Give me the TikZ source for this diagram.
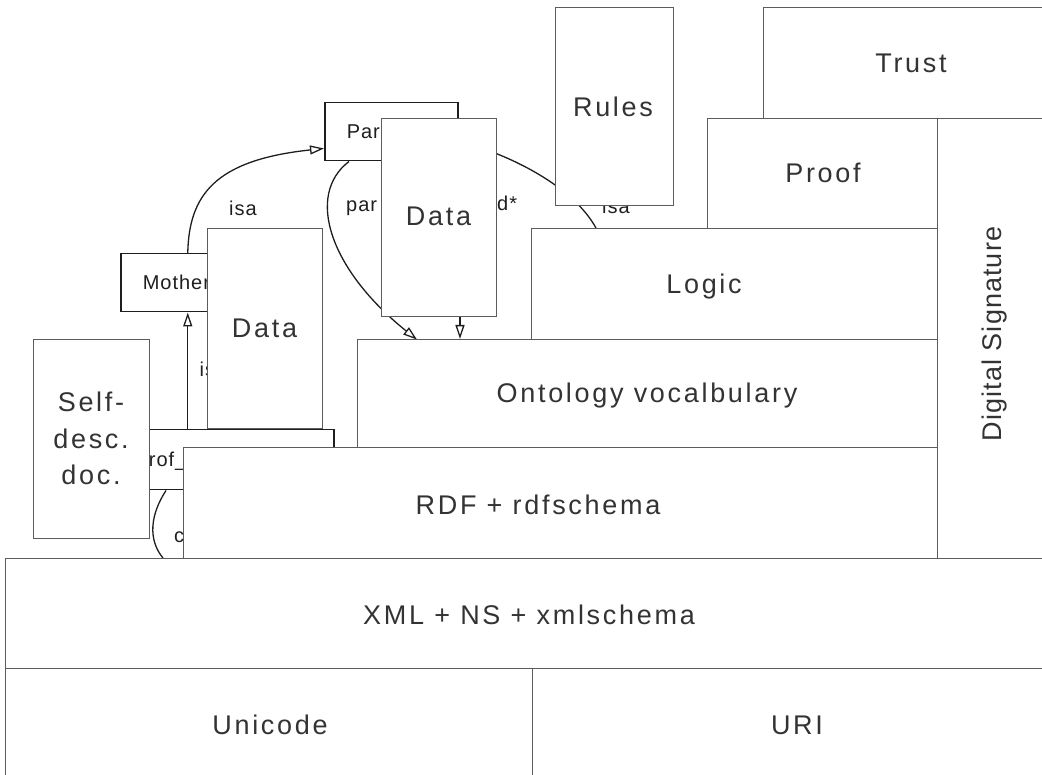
\documentclass[tikz,border=0pt]{standalone}
\usepackage{fontspec}
\setmainfont{Liberation Sans}
\newfontfamily\layerfont{Liberation Sans}[LetterSpace=10]
\newfontfamily\sigfont{Liberation Sans}[LetterSpace=4]
\newfontfamily\umlfont{Liberation Sans}[LetterSpace=5]
\usetikzlibrary{arrows.meta,calc}

\definecolor{edgegray}{HTML}{5C5C5C}
\definecolor{textgray}{HTML}{333333}
\definecolor{umlink}{HTML}{1E1E1E}

\pgfdeclarelayer{uml}
\pgfsetlayers{uml,main}

\tikzset{
  layer/.style={draw=edgegray, line width=1.2pt, fill=white, inner sep=0pt, anchor=north west},
  layertext/.style={text=textgray, inner sep=0pt, font=\layerfont\fontsize{27}{36.5}\selectfont},
  capline/.style={text height=19.4pt, text depth=0pt},
  umlbox/.style={draw=umlink, line width=1.5pt, fill=white, anchor=north west,
    inner xsep=22pt, inner ysep=0pt, align=left, text=umlink,
    text height=14.4pt, text depth=0pt, font=\umlfont\fontsize{20}{24}\selectfont},
  umlarc/.style={draw=umlink, line width=1.3pt},
  isahead/.style={-{Triangle[open, length=14pt, width=9pt]}},
  umllabel/.style={text=umlink, inner sep=0pt, font=\umlfont\fontsize{20}{24}\selectfont},
}

\begin{document}
\begin{tikzpicture}[x=1pt,y=-1pt]
\useasboundingbox (0,0) rectangle (1042,775);
\clip (0,0) rectangle (1042,775);

% ---- layer cake ----
\node[layer, minimum width=1048pt, minimum height=110pt] (xml) at (5,558) {};
\node[layertext, capline] (xml-t) at (529,615) {XML + NS + xmlschema};

\node[layer, minimum width=527pt, minimum height=114pt] (unicode) at (5,668) {};
\node[layertext, capline] (unicode-t) at (270,725) {Unicode};

\node[layer, minimum width=530pt, minimum height=114pt] (uri) at (532,668) {};
\node[layertext, capline] (uri-t) at (797,725) {URI};

\node[layer, minimum width=754pt, minimum height=111pt] (rdf) at (183,447) {};
\node[layertext, capline] (rdf-t) at (538,505) {RDF + rdfschema};

\node[layer, minimum width=580pt, minimum height=108pt] (onto) at (357,339) {};
\node[layertext, capline] (onto-t) at (647,393) {Ontology vocalbulary};

\node[layer, minimum width=406pt, minimum height=111pt] (logic) at (531,228) {};
\node[layertext, capline] (logic-t) at (704,284) {Logic};

\node[layer, minimum width=230pt, minimum height=110pt] (proof) at (707,118) {};
\node[layertext, capline] (proof-t) at (823,173) {Proof};

\node[layer, minimum width=297pt, minimum height=111pt] (trust) at (763,7) {};
\node[layertext, capline] (trust-t) at (911,62.5) {Trust};

\node[layer, minimum width=109pt, minimum height=440pt] (digsig) at (937,118) {};
\node[layertext, capline, rotate=90, font=\sigfont\fontsize{27}{36.5}\selectfont] (digsig-t) at (992,334) {Digital Signature};

\node[layer, minimum width=118pt, minimum height=198pt] (rules) at (555,7) {};
\node[layertext, capline] (rules-t) at (613,107) {Rules};

\node[layer, minimum width=116pt, minimum height=199pt] (selfdesc) at (33,339) {};
\node[layertext, align=center] (selfdesc-t) at (91,438.5) {Self-\\desc.\\doc.};

\node[layer, minimum width=115pt, minimum height=200pt] (dataL) at (207,228) {};
\node[layertext, capline] (dataL-t) at (264.5,328) {Data};

\node[layer, minimum width=115pt, minimum height=198pt] (dataC) at (381,118) {};
\node[layertext, capline] (dataC-t) at (438.5,216) {Data};

% ---- class diagram lying underneath ----
\begin{pgfonlayer}{uml}
\node[umlbox, minimum width=133pt, minimum height=58pt, text width=89pt] (parent) at (324,102) {Parent};
\node[umlbox, minimum width=134pt, minimum height=58pt, text width=90pt] (mother) at (120,253) {Mother};
\node[umlbox, minimum width=219pt, minimum height=60pt, text width=175pt] (prof) at (114,429) {prof\_};

\coordinate (parent-in) at ($(parent.south west)+(0,-13)$);
\draw[umlarc, isahead] (mother.north) .. controls (189,195) and (215,160) .. (parent-in);
\node[umllabel] (isa-a) at (243,208) {isa};

\draw[umlarc, isahead] ($(parent.south west)+(25,0)$) .. controls (305,195) and (330,270) .. ($(onto.north west)+(60,0.6)$);
\node[umllabel, anchor=base west] (par-l) at (346,212) {par};

\coordinate (child-src) at (460,200);
\draw[umlarc, isahead] (child-src) -- (child-src |- onto.north);
\node[umllabel, anchor=base west] (child-l) at (497,211) {d*};

\draw[umlarc] ($(parent.east)+(0,9)$) .. controls (520,158) and (575,190) .. ($(logic.north west)+(65,0)$);
\node[umllabel, anchor=base west] (isa-c) at (602,214) {isa};

\draw[umlarc, isahead] (prof.north -| mother.south) -- (mother.south);
\node[umllabel, anchor=base west] (isa-b) at (199.5,377) {isa};

\draw[umlarc] ($(prof.south west)+(52,0)$) .. controls (150,515) and (148,540) .. ($(xml.north west)+(158,0)$);
\node[umllabel, anchor=base west] (c-l) at (174,542) {c};
\end{pgfonlayer}
\end{tikzpicture}
\end{document}
